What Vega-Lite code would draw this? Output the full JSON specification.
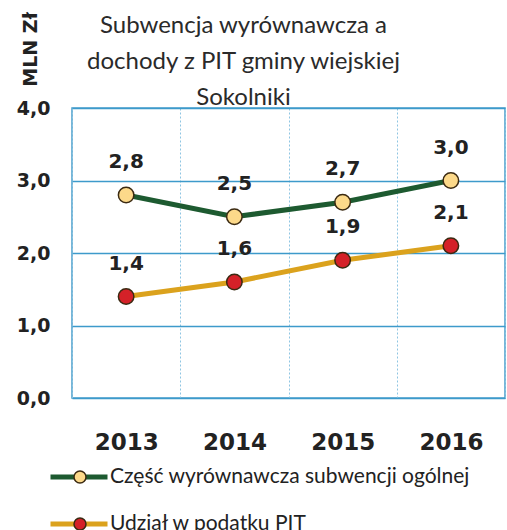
{
  "$schema": "https://vega.github.io/schema/vega-lite/v6.json",
  "width": 433,
  "height": 290,
  "autosize": {"type": "none"},
  "padding": {"left": 72, "top": 108, "right": 2, "bottom": 132},
  "background": "white",
  "config": {
    "locale": {"number": {"decimal": ",", "thousands": " ", "grouping": [3], "currency": ["", " zł"]}},
    "view": {"stroke": "#4a9fcb", "strokeWidth": 1.5},
    "font": "Lato"
  },
  "title": {
    "text": ["Subwencja wyrównawcza a", "dochody z PIT gminy wiejskiej", "Sokolniki"],
    "font": "Lato",
    "fontSize": 24,
    "fontWeight": "normal",
    "color": "#2a2a2a",
    "lineHeight": 36,
    "anchor": "middle",
    "dx": -45,
    "offset": -98
  },
  "data": {
    "values": [
      {"year": "2013", "series": "Część wyrównawcza subwencji ogólnej", "marker": "Część wyrównawcza subwencji ogólnej", "value": 2.8},
      {"year": "2014", "series": "Część wyrównawcza subwencji ogólnej", "marker": "Część wyrównawcza subwencji ogólnej", "value": 2.5},
      {"year": "2015", "series": "Część wyrównawcza subwencji ogólnej", "marker": "Część wyrównawcza subwencji ogólnej", "value": 2.7},
      {"year": "2016", "series": "Część wyrównawcza subwencji ogólnej", "marker": "Część wyrównawcza subwencji ogólnej", "value": 3.0},
      {"year": "2013", "series": "Udział w podatku PIT", "marker": "Udział w podatku PIT", "value": 1.4},
      {"year": "2014", "series": "Udział w podatku PIT", "marker": "Udział w podatku PIT", "value": 1.6},
      {"year": "2015", "series": "Udział w podatku PIT", "marker": "Udział w podatku PIT", "value": 1.9},
      {"year": "2016", "series": "Udział w podatku PIT", "marker": "Udział w podatku PIT", "value": 2.1}
    ]
  },
  "encoding": {
    "x": {
      "field": "year",
      "type": "nominal",
      "scale": {"paddingInner": 0, "paddingOuter": 0},
      "axis": {
        "title": null,
        "labelAngle": 0,
        "domain": false,
        "ticks": false,
        "grid": true,
        "tickBand": "extent",
        "gridDash": [2, 2],
        "gridColor": "#8ec5e2",
        "gridWidth": 1,
        "labelFont": "DejaVu Sans",
        "labelFontWeight": "bold",
        "labelFontSize": 23,
        "labelColor": "#222222",
        "labelPadding": 33
      }
    },
    "y": {
      "field": "value",
      "type": "quantitative",
      "scale": {"domain": [0, 4]},
      "axis": {
        "values": [0, 1, 2, 3, 4],
        "format": ".1f",
        "title": "MLN Zł",
        "titleAngle": -90,
        "titleX": -42,
        "titleY": -59,
        "titleAlign": "center",
        "titleBaseline": "middle",
        "titleFont": "DejaVu Sans",
        "titleFontWeight": "bold",
        "titleFontSize": 19,
        "titleColor": "#222222",
        "domain": false,
        "ticks": false,
        "grid": true,
        "gridColor": "#3d9acb",
        "gridWidth": 1.5,
        "labelFont": "DejaVu Sans",
        "labelFontWeight": "bold",
        "labelFontSize": 19,
        "labelColor": "#222222",
        "labelPadding": 22
      }
    }
  },
  "layer": [
    {
      "mark": {"type": "line", "strokeWidth": 5},
      "encoding": {
        "color": {
          "field": "series",
          "type": "nominal",
          "scale": {"range": ["#1d5a30", "#dba21d"]},
          "legend": {
            "title": null,
            "orient": "none",
            "legendX": -24,
            "legendY": 358,
            "direction": "vertical",
            "padding": 0,
            "symbolType": "stroke",
            "symbolSize": 3249,
            "symbolStrokeWidth": 5,
            "clipHeight": 22,
            "rowPadding": 25,
            "labelOffset": 0,
            "labelFont": "Lato",
            "labelFontSize": 21,
            "labelColor": "#222222",
            "labelLimit": 500
          }
        }
      }
    },
    {
      "mark": {"type": "point", "filled": true, "size": 240, "stroke": "#3b2a12", "strokeWidth": 1.5, "opacity": 1},
      "encoding": {
        "fill": {
          "field": "marker",
          "type": "nominal",
          "scale": {"range": ["#fcd98a", "#d42128"]},
          "legend": {
            "title": null,
            "orient": "none",
            "legendX": -2.5,
            "legendY": 358,
            "direction": "vertical",
            "padding": 0,
            "symbolType": "circle",
            "symbolSize": 144,
            "symbolStrokeColor": "#3b2a12",
            "symbolStrokeWidth": 1.5,
            "symbolOpacity": 1,
            "clipHeight": 22,
            "rowPadding": 25,
            "labelOpacity": 0,
            "labelFontSize": 21,
            "zindex": 2
          }
        }
      }
    },
    {
      "mark": {"type": "text", "dy": -33, "font": "DejaVu Sans", "fontWeight": "bold", "fontSize": 20, "color": "#222222", "baseline": "middle"},
      "encoding": {
        "text": {"field": "value", "type": "quantitative", "format": ".1f"}
      }
    }
  ]
}
